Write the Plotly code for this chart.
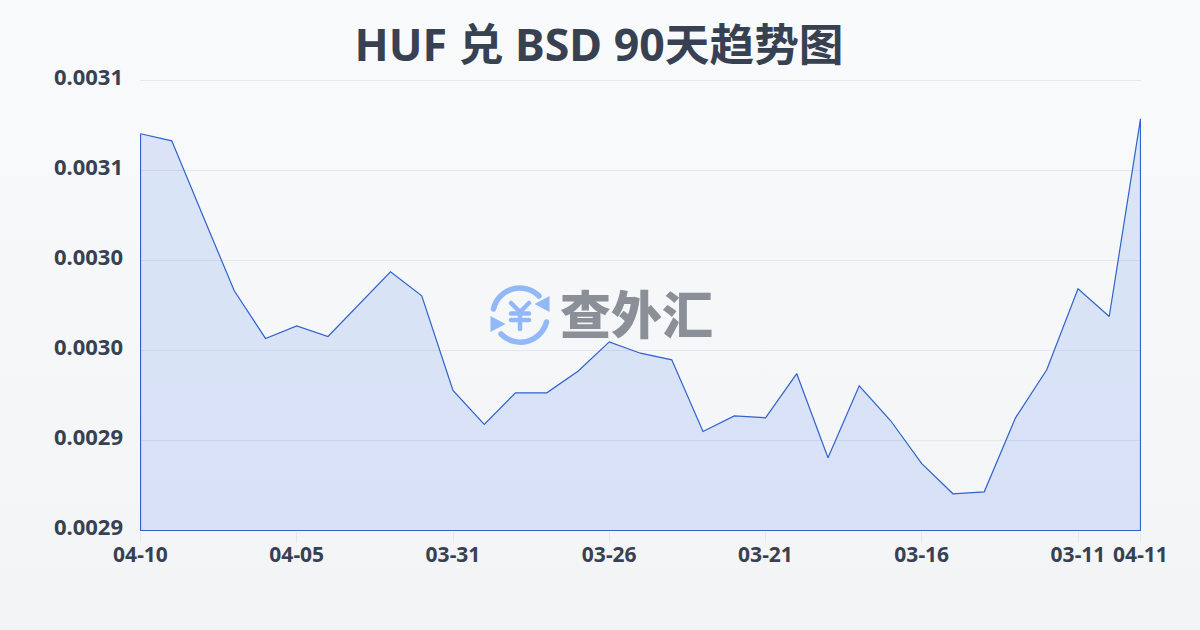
import base64
import plotly.graph_objects as go

TITLE = "HUF 兑 BSD 90天趋势图"
WATERMARK = "查外汇"
dates = ["04-10","04-09","04-08","04-07","04-06","04-05","04-04","04-03","04-02","04-01","03-31",
         "03-30","03-29","03-28","03-27","03-26","03-25","03-24","03-23","03-22","03-21",
         "03-20","03-19","03-18","03-17","03-16","03-15","03-14","03-13","03-12","03-11","03-10","04-11"]
rates = [0.0030704,0.0030665,0.0030247,0.0029832,0.0029567,0.0029637,0.0029578,0.0029759,0.0029937,0.0029804,
         0.0029278,0.0029089,0.0029265,0.0029265,0.0029385,0.0029548,0.0029485,0.0029448,0.0029050,0.0029137,
         0.0029126,0.0029371,0.0028904,0.0029304,0.0029111,0.0028871,0.0028704,0.0028715,0.0029126,0.0029393,
         0.0029843,0.0029689,0.0030787]
y_ticks = [0.00285,0.00290,0.00295,0.00300,0.00305,0.00310]
y_labels = ["0.0029","0.0029","0.0030","0.0030","0.0031","0.0031"]
x_tick_idx = [0,5,10,15,20,25,30,32]

FONT = "'Noto Sans','Noto Sans CJK SC',sans-serif"
INK = "#374151"
W, H = 1200, 630
L, R, T, B = 140, 59, 80, 99
PW, PH = W - L - R, H - T - B
n = len(rates)
# half-pixel padding on the axis ranges so the outline sits on whole pixel rows
x_pad = 0.5 * (n - 1) / 1000
y_pad = 0.5 * (y_ticks[-1] - y_ticks[0]) / 450

svg = f'''<svg xmlns="http://www.w3.org/2000/svg" width="{W}" height="{H}" viewBox="0 0 {W} {H}">
<defs><linearGradient id="g" x1="0" y1="0" x2="0" y2="1"><stop offset="0" stop-color="#f8fafc"/><stop offset="1" stop-color="#f3f4f6"/></linearGradient></defs>
<rect width="{W}" height="{H}" fill="url(#g)"/>
<g fill="none" stroke="#93b8f8" stroke-width="5.5" stroke-linecap="round" stroke-linejoin="round">
<path d="M493.5 309 A27 27 0 0 1 539 296"/>
<path d="M546.5 322 A27 27 0 0 1 501 334"/>
<path d="M511 303 L520 312 L529 303 M511 313.5 H529 M511 320 H529 M520 312 V329" stroke-width="4.5"/>
</g>
<g fill="#93b8f8"><path d="M549.5 296 V312 L534.5 304 Z"/><path d="M490.5 316 V332 L505.5 324 Z"/></g>
</svg>'''
src = "data:image/svg+xml;base64," + base64.b64encode(svg.encode()).decode()

xs = list(range(n)) + [n - 1, 0, 0]
ys = rates + [y_ticks[0], y_ticks[0], rates[0]]

fig = go.Figure(go.Scatter(
    x=xs, y=ys, mode="lines", fill="toself",
    fillcolor="rgba(37,99,235,0.135)",
    line=dict(color="#2f62cc", width=1.2),
    cliponaxis=False, hoverinfo="skip", showlegend=False,
))
fig.update_layout(
    width=W, height=H, autosize=False,
    margin=dict(l=L, r=R, t=T, b=B, pad=0),
    paper_bgcolor="rgba(0,0,0,0)", plot_bgcolor="rgba(0,0,0,0)",
    font=dict(family=FONT, color=INK),
    title=dict(text=TITLE, x=0.4992, xref="container", xanchor="center", y=1 - 45 / H, yref="container", yanchor="middle",
               font=dict(size=44.7, family=FONT, weight=700, color=INK)),
    xaxis=dict(range=[-x_pad, n - 1 + x_pad], tickmode="array", tickvals=x_tick_idx,
               ticktext=[dates[i] for i in x_tick_idx], ticks="outside", ticklen=11, tickwidth=1,
               tickcolor="#e5e7eb", showgrid=False, zeroline=False, showline=False,
               ticklabelstandoff=-6,
               tickfont=dict(size=21, family=FONT, weight=700, color=INK)),
    yaxis=dict(range=[y_ticks[0] - y_pad, y_ticks[-1] + y_pad], tickmode="array", tickvals=y_ticks, ticktext=y_labels,
               ticks="", showgrid=True, gridcolor="#e5e7eb", gridwidth=1, zeroline=False, showline=False,
               ticklabelstandoff=16, ticklabelshift=-3,
               tickfont=dict(size=22, family=FONT, weight=700, color=INK)),
    shapes=[dict(type="line", xref="paper", x0=0, x1=1, yref="y", y0=y_ticks[-1], y1=y_ticks[-1],
                 line=dict(color="#e5e7eb", width=1), layer="below")],
    images=[dict(source=src, xref="paper", yref="paper", x=-L / PW, y=(PH + T) / PH,
                 sizex=W / PW, sizey=H / PH, xanchor="left", yanchor="top", sizing="stretch", layer="below")],
    annotations=[dict(text=WATERMARK, xref="paper", yref="paper", x=(636 - L) / PW, y=(H - B - 312) / PH,
                      xanchor="center", yanchor="middle", showarrow=False,
                      font=dict(size=51, family="'Noto Sans CJK SC',sans-serif", weight=900, color="#8a8f98"))],
)
fig.write_html("out.html", config={"displayModeBar": False}, post_script="document.body.style.margin='0';document.documentElement.style.overflow='hidden';")
